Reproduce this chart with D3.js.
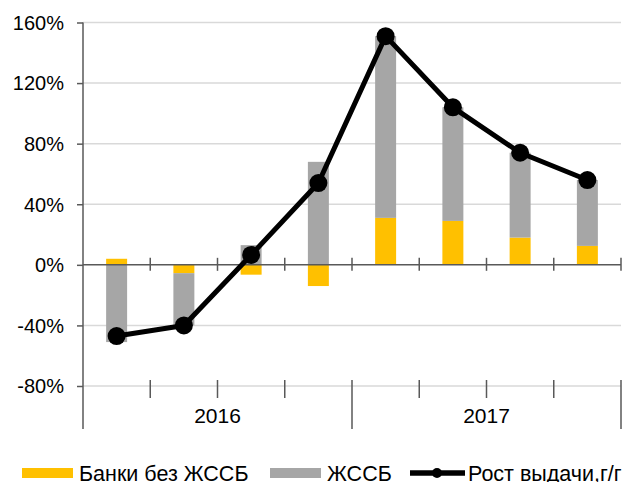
<!DOCTYPE html>
<html><head><meta charset="utf-8">
<script src="https://cdn.jsdelivr.net/npm/d3@7"></script>
<style>
html,body{margin:0;padding:0;background:#fff;}
svg{display:block;font-family:"Liberation Sans",Arial,sans-serif;}
</style></head>
<body>
<svg id="chart" width="623" height="482"></svg>
<script>
const quarters = ["I кв. 2016","II кв. 2016","III кв. 2016","IV кв. 2016","I кв. 2017","II кв. 2017","III кв. 2017","IV кв. 2017"];
const years = ["2016","2017"];
const banksNoZhssb = [4, -5.5, -6.5, -14, 31, 29, 18, 12.5];
const zhssb = [-51, -34.5, 13, 68, 120, 75, 56, 43.5];
const growth = [-47, -40, 6.5, 54, 151, 104, 74, 56];
const yTicks = [-80, -40, 0, 40, 80, 120, 160];
const seriesNames = ["Банки без ЖССБ", "ЖССБ", "Рост выдачи,г/г"];
const colors = ["#FFC000", "#A6A6A6", "#000000"];

const svg = d3.select("#chart");
const pL = 83, pR = 621, pT = 22.5, pB = 386;

const x = d3.scaleBand().domain(quarters).range([pL, pR]).paddingInner(0.688).paddingOuter(0.344);
const xStep = d3.scaleBand().domain(quarters).range([pL, pR]);
const y = d3.scaleLinear().domain([-80, 160]).range([pB, pT]);

// gridlines
svg.append("g").selectAll("line").data(yTicks.filter(t => t !== 0)).join("line")
  .attr("x1", pL).attr("x2", pR)
  .attr("y1", d => y(d)).attr("y2", d => y(d))
  .attr("stroke", "#d9d9d9").attr("stroke-width", 1.5);

// y axis
const yAxis = d3.axisLeft(y).tickValues(yTicks).tickSize(6).tickPadding(13).tickFormat(d => d + "%");
const ya = svg.append("g").attr("transform", `translate(${pL},0)`).call(yAxis);
ya.select(".domain").remove();
ya.selectAll(".tick line").attr("stroke", "#595959").attr("stroke-width", 1.5);
ya.selectAll(".tick text").attr("font-size", 20).attr("fill", "#000").attr("dy", "0.34em");
svg.append("line").attr("x1", pL).attr("x2", pL).attr("y1", pT).attr("y2", 429)
  .attr("stroke", "#595959").attr("stroke-width", 1.5);

// stacked bars
const table = quarters.map((q, i) => ({q, a: banksNoZhssb[i], b: zhssb[i]}));
const stack = d3.stack().keys(["a", "b"]).offset(d3.stackOffsetDiverging)(table);
svg.append("g").selectAll("g").data(stack).join("g")
  .attr("fill", (d, i) => colors[i])
  .selectAll("rect").data(d => d).join("rect")
  .attr("x", d => x(d.data.q))
  .attr("width", x.bandwidth())
  .attr("y", d => y(Math.max(d[0], d[1])))
  .attr("height", d => Math.abs(y(d[0]) - y(d[1])));

// zero axis with ticks
svg.append("line").attr("x1", pL).attr("x2", pR).attr("y1", y(0)).attr("y2", y(0))
  .attr("stroke", "#595959").attr("stroke-width", 1.5);
const bounds = quarters.map(q => xStep(q)).concat([pR]);
svg.append("g").selectAll("line").data(bounds.slice(1)).join("line")
  .attr("x1", d => d).attr("x2", d => d)
  .attr("y1", y(0) - 7).attr("y2", y(0) + 6)
  .attr("stroke", "#595959").attr("stroke-width", 1.5);

// bottom category label ticks
svg.append("g").selectAll("line").data(bounds.slice(1)).join("line")
  .attr("x1", d => d).attr("x2", d => d)
  .attr("y1", y(-80) - 6)
  .attr("y2", (d, i) => ((i + 1) % 4 === 0) ? 429 : 398)
  .attr("stroke", "#595959").attr("stroke-width", 1.5);

// year labels
svg.append("g").selectAll("text").data(years).join("text")
  .attr("x", (d, i) => (bounds[i * 4] + bounds[i * 4 + 4]) / 2)
  .attr("y", 423)
  .attr("text-anchor", "middle").attr("font-size", 21).attr("fill", "#000")
  .text(d => d);

// line
const line = d3.line().x((d, i) => x(quarters[i]) + x.bandwidth() / 2).y(d => y(d));
svg.append("path").datum(growth).attr("d", line)
  .attr("fill", "none").attr("stroke", "#000").attr("stroke-width", 5).attr("stroke-linejoin", "round");
svg.append("g").selectAll("circle").data(growth).join("circle")
  .attr("cx", (d, i) => x(quarters[i]) + x.bandwidth() / 2)
  .attr("cy", d => y(d)).attr("r", 9).attr("fill", "#000");

// legend
const lg = svg.append("g").attr("font-size", 21.5).attr("fill", "#000");
lg.append("rect").attr("x", 22).attr("y", 468).attr("width", 51).attr("height", 10).attr("fill", colors[0]);
lg.append("text").attr("x", 79).attr("y", 481).text(seriesNames[0]);
lg.append("rect").attr("x", 270).attr("y", 468).attr("width", 51).attr("height", 10).attr("fill", colors[1]);
lg.append("text").attr("x", 327).attr("y", 481).text(seriesNames[1]);
lg.append("line").attr("x1", 410).attr("x2", 465).attr("y1", 473).attr("y2", 473)
  .attr("stroke", "#000").attr("stroke-width", 5.5);
lg.append("circle").attr("cx", 437).attr("cy", 473).attr("r", 5).attr("fill", "#000");
lg.append("text").attr("x", 468).attr("y", 481).text(seriesNames[2]);
</script>
</body></html>
